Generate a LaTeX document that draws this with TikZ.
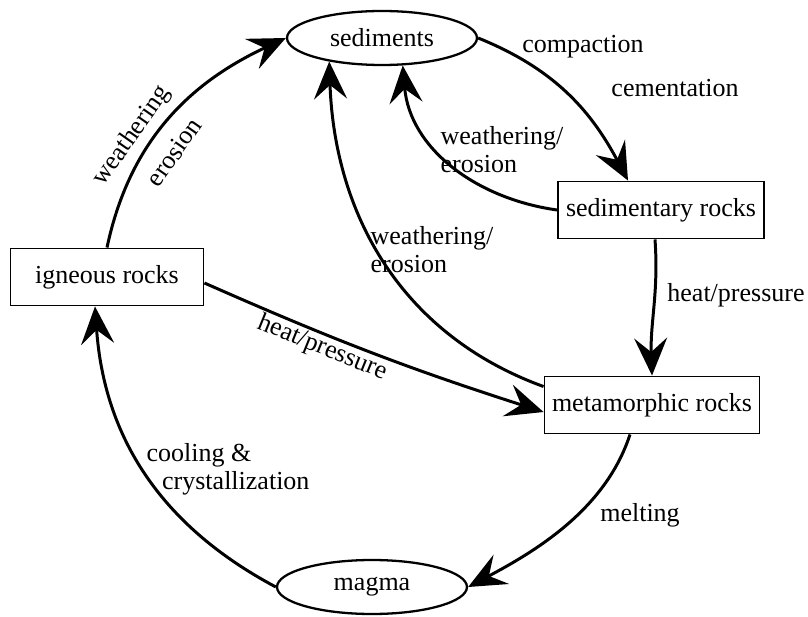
\documentclass[tikz,border=0pt]{standalone}
\usepackage{fontspec}
\setmainfont{Liberation Serif}
\usetikzlibrary{shapes.geometric,arrows.meta}

\begin{document}
\begin{tikzpicture}[x=0.02cm, y=0.02cm,
        every node/.style={font=\fontsize{14.8}{16}\selectfont},
        rock/.style={draw, line width=1.1pt, minimum height=1.14cm, inner sep=0pt},
        pool/.style={draw, ellipse, line width=1.3pt, minimum width=3.8cm, minimum height=1.08cm, inner sep=0pt},
        flow/.style={line width=1.7pt, -{Stealth[length=0.75cm, width=0.66cm, inset=0.28cm]}}]

        \useasboundingbox (0, 0) rectangle (808, 616);

        \node (sed) at (382, 578) [pool] {sediments};
        \node (sedr) at (661, 406) [rock, minimum width=4.12cm] {sedimentary rocks};
        \node (met) at (652, 211) [rock, minimum width=4.3cm] {metamorphic rocks};
        \node (ign) at (107, 339) [rock, minimum width=3.86cm] {igneous rocks};
        \node (mag) at (372, 29) [pool] {magma};

        \draw [flow] (ign.north) to [out=78, in=205] (sed.west);
        \node (l1) at (132, 480) [rotate=55] {weathering};
        \node (l2) at (174, 464) [rotate=55] {erosion};

        \draw [flow] (sed.east) to [out=-22, in=118] ([xshift=-0.66cm]sedr.north);
        \node (l3) at (583, 569) {compaction};
        \node (l4) at (675, 528) {cementation};

        \draw [flow] (sedr.west) to [out=172, in=-85] (sed.307);
        \node (l5) at (502, 466) [align=left] {weathering/\\erosion};

        \draw [flow] ([yshift=-0.22cm]met.north west) to [out=160, in=-88] (sed.204);
        \node (l6) at (432, 366) [align=left] {weathering/\\erosion};

        \draw [flow] ([xshift=-0.12cm]sedr.south) to [out=-86, in=92] (met.north);
        \node (l7) at (736, 321) {heat/pressure};

        \draw [flow] ([yshift=-0.12cm]ign.east) to [bend right=3] ([yshift=-0.14cm]met.west);
        \node (l8) at (322, 268) [rotate=-22] {heat/pressure};

        \draw [flow] ([xshift=-0.44cm]met.south) to [out=-108, in=28, looseness=0.9] (mag.east);
        \node (l9) at (640, 101) {melting};

        \draw [flow] (mag.west) to [out=152, in=-86] ([xshift=-0.24cm]ign.south);
        \node (l10) at (228, 147) [align=left] {cooling \&\\\hspace*{0.6em}crystallization};

    \end{tikzpicture}
\end{document}
